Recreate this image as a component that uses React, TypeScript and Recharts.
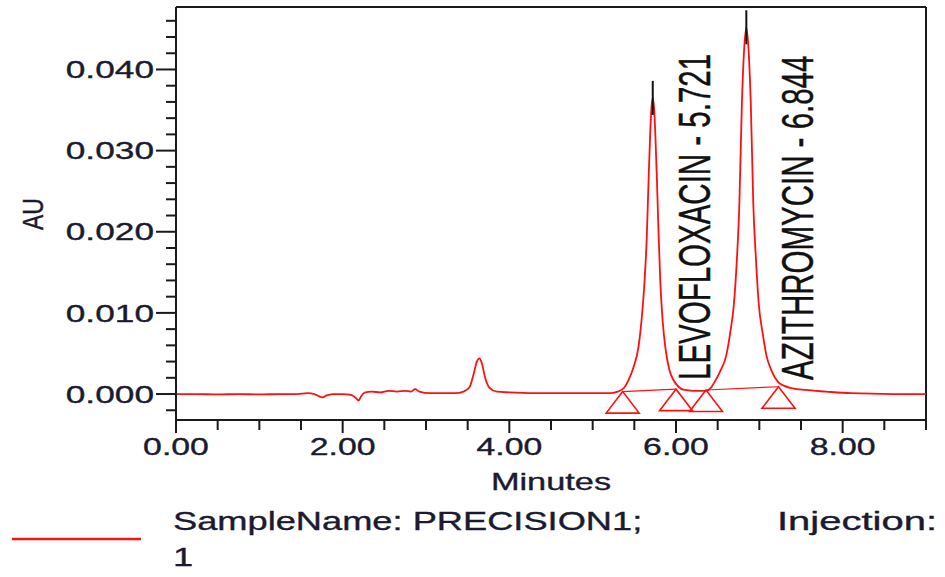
import React from 'react';
import { ComposedChart, Line, Scatter, XAxis, YAxis, ReferenceLine, Label } from 'recharts';

// detector trace: [minutes, AU]
const SIGNAL: [number, number][] = [
  [0.0, 0.0], [0.25, 0.0], [0.5, -0.00005], [0.75, 0.0], [1.0, -0.00005], [1.25, 0.0],
  [1.45, 0.0], [1.58, 0.0001], [1.66, 0.0], [1.72, -0.0003], [1.76, -0.0004], [1.8, -0.0002],
  [1.88, 0.0], [2.0, 0.0], [2.1, -0.0001], [2.16, -0.0005], [2.19, -0.0008], [2.22, -0.0003],
  [2.27, 0.0002], [2.35, 0.0003], [2.45, 0.0002], [2.55, 0.0004], [2.65, 0.0003], [2.75, 0.0004],
  [2.82, 0.0003], [2.87, 0.0006], [2.92, 0.0003], [3.05, 0.0001], [3.2, 0.0001], [3.35, 0.0001],
  [3.45, 0.0003], [3.52, 0.0008], [3.57, 0.0024], [3.61, 0.004], [3.64, 0.0044], [3.67, 0.0038],
  [3.71, 0.002], [3.76, 0.0008], [3.85, 0.0003], [4.0, 0.0002], [4.3, 0.0001], [4.6, 0.0001],
  [4.9, 0.0001], [5.1, 0.0001], [5.2, 0.0001], [5.3, 0.0003], [5.38, 0.0008], [5.43, 0.0017],
  [5.49, 0.0033], [5.55, 0.0058], [5.59, 0.0095], [5.623, 0.014], [5.65, 0.0195], [5.671, 0.0264],
  [5.69, 0.032], [5.705, 0.0352], [5.721, 0.0365], [5.737, 0.0352], [5.752, 0.032], [5.771, 0.0264],
  [5.79, 0.02], [5.811, 0.014], [5.84, 0.009], [5.871, 0.0058], [5.92, 0.003], [5.971, 0.0017],
  [6.03, 0.0009], [6.1, 0.0005], [6.2, 0.0004], [6.3, 0.0004], [6.36, 0.0004], [6.42, 0.0008],
  [6.464, 0.0015], [6.53, 0.0028], [6.604, 0.0048], [6.65, 0.0075], [6.694, 0.011], [6.73, 0.0165],
  [6.76, 0.0233], [6.79, 0.0356], [6.815, 0.042], [6.844, 0.0452], [6.873, 0.042], [6.898, 0.0356],
  [6.928, 0.0233], [6.96, 0.0165], [6.994, 0.011], [7.04, 0.0075], [7.084, 0.0048], [7.15, 0.0028],
  [7.224, 0.0015], [7.3, 0.001], [7.4, 0.0007], [7.55, 0.0005], [7.8, 0.0003], [8.1, 0.0001],
  [8.6, 0.0], [9.0, 0.0],
];

const PEAK_NAMES = ['LEVOFLOXACIN', 'AZITHROMYCIN'];
const PEAK_RT = [5.721, 6.844];
const PEAK_AU = [0.0365, 0.0452];

// integration start / end markers
const MARK_RT = [5.36, 6.0, 6.36, 7.23];
const MARK_AU = [0.0003, 0.0006, 0.0005, 0.0009];

const X_TICKS = [0, 0.5, 1, 1.5, 2, 2.5, 3, 3.5, 4, 4.5, 5, 5.5, 6, 6.5, 7, 7.5, 8, 8.5, 9];
const Y_TICKS = [
  -0.002, 0, 0.002, 0.004, 0.006, 0.008, 0.01, 0.012, 0.014, 0.016, 0.018, 0.02, 0.022, 0.024,
  0.026, 0.028, 0.03, 0.032, 0.034, 0.036, 0.038, 0.04, 0.042, 0.044, 0.046,
];
const Y_MIN = -0.0032;
const Y_MAX = 0.0477;

const LEGEND_NAME = 'SampleName: PRECISION1;';
const LEGEND_INJ = 'Injection:';
const LEGEND_INJ_NO = '1';

const FONT = '"Liberation Sans", Arial, sans-serif';
const INK = '#1a1a30';
const AXIS = '#1a1a1a';
const RED = '#ff1010';
const SX = 1.47; // the original's text is stretched wide
const LABEL_DX: Record<string, number> = { LEVOFLOXACIN: 57, AZITHROMYCIN: 67 };
const heavy = { stroke: INK, strokeWidth: 0.35 };

const signalData = SIGNAL.map(([t, v]) => ({ t, v }));
const peakData = PEAK_RT.map((t, i) => ({ t, v: PEAK_AU[i], name: PEAK_NAMES[i] }));
const markData = MARK_RT.map((t, i) => ({ t, v: MARK_AU[i] }));
const base1 = [markData[0], markData[1]];
const base2 = [markData[2], markData[3]];

const XTick = (props: any) => {
  const { x, y, payload } = props;
  const major = payload.value % 2 === 0;
  return (
    <g>
      <line x1={x} x2={x} y1={y} y2={y + (major ? 13 : 10)} stroke={AXIS} strokeWidth={2} />
      {major && payload.value < 9 && (
        <text
          transform={`translate(${x},${y + 35}) scale(${SX},1)`}
          textAnchor="middle"
          fontSize={23}
          fontFamily={FONT}
          fill={INK}
          {...heavy}
        >
          {payload.value.toFixed(2)}
        </text>
      )}
    </g>
  );
};

const YTick = (props: any) => {
  const { x, y, payload } = props;
  const v = payload.value;
  const major = Math.abs(v * 100 - Math.round(v * 100)) < 1e-6;
  return (
    <g>
      <line x1={x - (major ? 20 : 10)} x2={x} y1={y} y2={y} stroke={AXIS} strokeWidth={2} />
      {major && (
        <text
          transform={`translate(${x - 22},${y}) scale(${SX},1)`}
          textAnchor="end"
          dy="0.36em"
          fontSize={24}
          fontFamily={FONT}
          fill={INK}
          {...heavy}
        >
          {v.toFixed(3)}
        </text>
      )}
    </g>
  );
};

const MinutesLabel = (props: any) => {
  const vb = props.viewBox || { x: 176, width: 750 };
  return (
    <text
      transform={`translate(${vb.x + vb.width / 2},490) scale(1.43,1)`}
      textAnchor="middle"
      fontSize={24}
      fontFamily={FONT}
      fill={INK}
      {...heavy}
    >
      Minutes
    </text>
  );
};

const AULabel = () => (
  <text
    transform={`translate(43,214) scale(1.3,1) rotate(-90)`}
    textAnchor="middle"
    fontSize={23}
    fontFamily={FONT}
    fill={INK}
    {...heavy}
  >
    AU
  </text>
);

const PeakMark = (props: any) => {
  const { cx, cy, payload } = props;
  const bx = cx + (LABEL_DX[payload.name] ?? 60);
  return (
    <g>
      <line x1={cx} x2={cx} y1={cy - 17} y2={cy + 17} stroke="#111" strokeWidth={2} />
      <text
        transform={`translate(${bx},380) scale(1.52,1) rotate(-90)`}
        textAnchor="start"
        fontSize={29.5}
        fontFamily={FONT}
        fill="#111"
        stroke="#111"
        strokeWidth={0.3}
      >
        {`${payload.name} - ${payload.t.toFixed(3)}`}
      </text>
    </g>
  );
};

const Triangle = (props: any) => {
  const { cx, cy } = props;
  return (
    <polygon
      points={`${cx},${cy} ${cx - 16.5},${cy + 21.5} ${cx + 16.5},${cy + 21.5}`}
      fill="none"
      stroke={RED}
      strokeWidth={1.6}
    />
  );
};

export default function App() {
  return (
    <div style={{ position: 'absolute', left: 0, top: 0, width: 945, height: 577, background: '#fff' }}>
      <ComposedChart width={945} height={577} margin={{ top: 7, right: 19, left: 0, bottom: 0 }}>
        <XAxis
          type="number"
          dataKey="t"
          domain={[0, 9]}
          ticks={X_TICKS}
          interval={0}
          tickSize={0}
          tickMargin={0}
          tickLine={false}
          tick={<XTick />}
          axisLine={{ stroke: AXIS, strokeWidth: 2 }}
          height={157}
          allowDataOverflow
        >
          <Label content={<MinutesLabel />} />
        </XAxis>
        <YAxis
          type="number"
          dataKey="v"
          domain={[Y_MIN, Y_MAX]}
          ticks={Y_TICKS}
          interval={0}
          tickSize={0}
          tickMargin={0}
          tickLine={false}
          tick={<YTick />}
          axisLine={{ stroke: AXIS, strokeWidth: 2 }}
          width={176}
          allowDataOverflow
        >
          <Label content={<AULabel />} />
        </YAxis>
        <ReferenceLine y={Y_MAX} stroke={AXIS} strokeWidth={2} />
        <ReferenceLine x={9} stroke={AXIS} strokeWidth={2} />
        <Line
          data={signalData}
          dataKey="v"
          type="monotone"
          stroke={RED}
          strokeWidth={1.8}
          dot={false}
          activeDot={false}
          isAnimationActive={false}
        />
        <Line data={base1} dataKey="v" type="linear" stroke={RED} strokeWidth={1.2} dot={false} activeDot={false} isAnimationActive={false} />
        <Line data={base2} dataKey="v" type="linear" stroke={RED} strokeWidth={1.2} dot={false} activeDot={false} isAnimationActive={false} />
        <Scatter data={markData} dataKey="v" shape={<Triangle />} isAnimationActive={false} />
        <Scatter data={peakData} dataKey="v" shape={<PeakMark />} isAnimationActive={false} />
      </ComposedChart>
      <svg width={945} height={87} style={{ position: 'absolute', left: 0, top: 490 }}>
        <line x1={12} x2={141} y1={49} y2={49} stroke={RED} strokeWidth={2.5} />
        <text transform={`translate(173,40) scale(1.45,1)`} fontSize={25} fontFamily={FONT} fill={INK} {...heavy}>
          {LEGEND_NAME}
        </text>
        <text transform={`translate(777,40) scale(1.6,1)`} fontSize={25} fontFamily={FONT} fill={INK} {...heavy}>
          {LEGEND_INJ}
        </text>
        <text transform={`translate(173,76) scale(1.45,1)`} fontSize={25} fontFamily={FONT} fill={INK} {...heavy}>
          {LEGEND_INJ_NO}
        </text>
      </svg>
    </div>
  );
}
